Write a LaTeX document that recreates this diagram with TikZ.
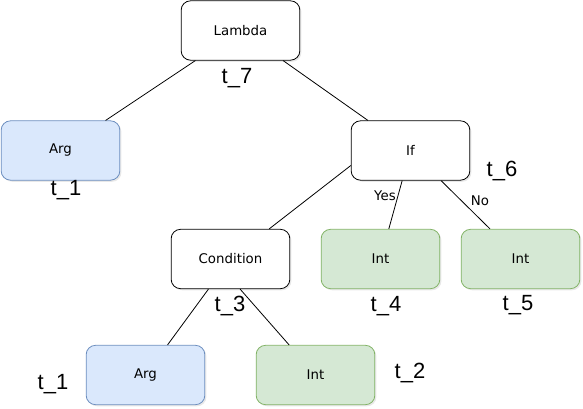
\documentclass[tikz,border=0pt]{standalone}
\usepackage{fontspec}
\setmainfont{DejaVu Sans}
\newfontfamily\tagfont{Liberation Sans}
\usetikzlibrary{calc,shadows}
\definecolor{argfill}{HTML}{DAE8FC}
\definecolor{argline}{HTML}{6C8EBF}
\definecolor{intfill}{HTML}{D5E8D4}
\definecolor{intline}{HTML}{82B366}
\tikzset{
  box/.style={draw=black, fill=white, rounded corners=7pt, minimum width=89pt,
    minimum height=44.5pt, inner sep=0pt, line width=0.6pt,
    font=\fontsize{10}{12}\selectfont,
    drop shadow={opacity=0.18, shadow xshift=1.2pt, shadow yshift=-1.2pt}},
  argbox/.style={box, draw=argline, fill=argfill},
  intbox/.style={box, draw=intline, fill=intfill},
  tag/.style={font=\tagfont\fontsize{16.5}{19}\selectfont, inner sep=0pt},
  branch/.style={font=\fontsize{10}{12}\selectfont, inner sep=0pt},
  link/.style={draw=black, line width=0.6pt}
}
\begin{document}
\begin{tikzpicture}[x=0.75pt,y=-0.75pt]
  \useasboundingbox (0,0) rectangle (583,409);
  % --- boxes of the tree
  \node[box]    (lam)  at (240.5,30.5) {Lambda};
  \node[argbox] (arga) at (60.5,150.5) {Arg};
  \node[box]    (ifn)  at (410.5,150.5) {If};
  \node[box]    (cond) at (230.5,259)   {Condition};
  \node[intbox] (intd) at (380.5,259)   {Int};
  \node[intbox] (inte) at (520.5,259)   {Int};
  \node[argbox] (argb) at (145.5,375)   {Arg};
  \node[intbox] (intb) at (315.5,375)   {Int};
  % --- edges
  \draw[link] (lam) -- (arga);
  \draw[link] (lam) -- (ifn);
  \draw[link] ($(ifn.west)!0.5!(ifn.south west)$) -- (cond);
  \draw[link] (ifn) -- (intd);
  \draw[link] (ifn) -- (inte);
  \draw[link] (cond) -- (argb);
  \draw[link] ($(cond.south west)!0.58!(cond.south east)$) -- (intb);
  % --- branch labels
  \node[branch] (yes) at (385,196) {Yes};
  \node[branch] (no)  at (480,201) {No};
  % --- type variables
  \node[tag] (t7)  at (237,78)  {t\_7};
  \node[tag] (t1a) at (66,190)  {t\_1};
  \node[tag] (t6)  at (502,171) {t\_6};
  \node[tag] (t3)  at (230,306) {t\_3};
  \node[tag] (t4)  at (386,306) {t\_4};
  \node[tag] (t5)  at (518,305) {t\_5};
  \node[tag] (t1b) at (53,384)  {t\_1};
  \node[tag] (t2)  at (410,373) {t\_2};
\end{tikzpicture}
\end{document}
